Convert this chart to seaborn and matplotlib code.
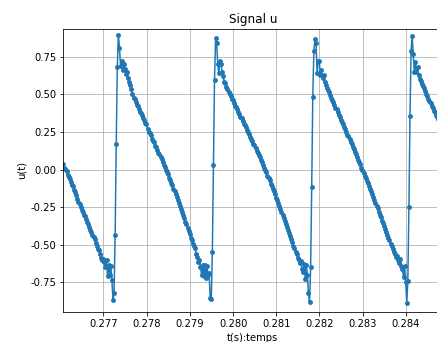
import numpy as np
import matplotlib
matplotlib.use("Agg")
import matplotlib.pyplot as plt
import seaborn as sns

# Sampled voltage u(t): acquisition start time and sample period (s)
t0 = 0.27607
dt = 2.5e-5

# Samples, one list per sawtooth cycle
cycle_1 = [
    0.040, 0.012, 0.005, -0.010, -0.035, -0.048, -0.060, -0.082, -0.100, -0.112,
    -0.138, -0.150, -0.168, -0.195, -0.215, -0.228, -0.252, -0.268, -0.283, -0.300,
    -0.312, -0.330, -0.352, -0.365, -0.382, -0.400, -0.412, -0.435, -0.450, -0.462,
    -0.490, -0.505, -0.528, -0.535, -0.560, -0.585, -0.600, -0.592, -0.615, -0.646,
    -0.600, -0.710, -0.635, -0.700, -0.640, -0.735, -0.868, -0.820, -0.435, 0.170,
    0.680, 0.894, 0.810, 0.686, 0.720, 0.660, 0.700, 0.668, 0.635, 0.650,
    0.606, 0.580, 0.560, 0.535, 0.500,
]
cycle_2 = [
    0.478, 0.469, 0.452, 0.430, 0.424, 0.405, 0.385, 0.378, 0.360, 0.345,
    0.330, 0.312, 0.300, 0.270, 0.252, 0.240, 0.228, 0.205, 0.192, 0.180,
    0.158, 0.148, 0.130, 0.110, 0.100, 0.080, 0.068, 0.050, 0.030, 0.018,
    0.000, -0.018, -0.030, -0.055, -0.070, -0.090, -0.105, -0.128, -0.145, -0.160,
    -0.185, -0.200, -0.222, -0.240, -0.262, -0.285, -0.300, -0.325, -0.348, -0.365,
    -0.388, -0.410, -0.428, -0.452, -0.470, -0.495, -0.510, -0.524, -0.560, -0.580,
    -0.613, -0.600, -0.646, -0.700, -0.635, -0.710, -0.635, -0.720, -0.640, -0.700,
    -0.690, -0.856, -0.863, -0.550, 0.033, 0.595, 0.872, 0.840, 0.700, 0.640,
    0.720, 0.700, 0.650, 0.620, 0.580,
]
cycle_3 = [
    0.572, 0.550, 0.538, 0.515, 0.505, 0.490, 0.470, 0.462, 0.445, 0.425,
    0.415, 0.400, 0.382, 0.370, 0.350, 0.340, 0.322, 0.305, 0.298, 0.280,
    0.262, 0.252, 0.235, 0.218, 0.205, 0.190, 0.170, 0.160, 0.142, 0.125,
    0.110, 0.095, 0.080, 0.060, 0.048, 0.030, 0.012, -0.005, -0.018, -0.040,
    -0.055, -0.072, -0.095, -0.108, -0.130, -0.145, -0.165, -0.188, -0.200, -0.225,
    -0.242, -0.262, -0.285, -0.300, -0.322, -0.340, -0.362, -0.385, -0.400, -0.420,
    -0.445, -0.462, -0.485, -0.505, -0.522, -0.545, -0.560, -0.590, -0.600, -0.620,
    -0.605, -0.660, -0.680, -0.625, -0.730, -0.635, -0.700, -0.823, -0.883, -0.650,
    -0.114, 0.485, 0.790, 0.865, 0.840, 0.640, 0.720, 0.720, 0.630, 0.660,
    0.610, 0.625, 0.580,
]
cycle_4 = [
    0.565, 0.545, 0.530, 0.512, 0.495, 0.478, 0.460, 0.448, 0.430, 0.410,
    0.400, 0.380, 0.365, 0.348, 0.330, 0.318, 0.300, 0.282, 0.270, 0.250,
    0.232, 0.220, 0.200, 0.182, 0.168, 0.150, 0.135, 0.118, 0.100, 0.085,
    0.065, 0.048, 0.035, 0.012, -0.005, -0.020, -0.040, -0.055, -0.075, -0.092,
    -0.108, -0.130, -0.145, -0.162, -0.185, -0.200, -0.220, -0.240, -0.258, -0.280,
    -0.300, -0.315, -0.340, -0.355, -0.375, -0.398, -0.412, -0.435, -0.455, -0.470,
    -0.492, -0.510, -0.525, -0.548, -0.560, -0.580, -0.575, -0.600, -0.620, -0.595,
    -0.640, -0.660, -0.715, -0.640, -0.750, -0.888, -0.740, -0.250, 0.358, 0.790,
    0.890, 0.770, 0.646, 0.713, 0.650, 0.680, 0.630, 0.600,
]
cycle_5 = [
    0.590, 0.570, 0.555, 0.540, 0.520, 0.505, 0.488, 0.470, 0.458, 0.440,
    0.420, 0.408, 0.390, 0.380, 0.365, 0.350, 0.335, 0.318, 0.305, 0.290, 0.275,
]

u = np.array(cycle_1 + cycle_2 + cycle_3 + cycle_4 + cycle_5)
t = t0 + dt * np.arange(len(u))

title = "Signal u"
x_label = "t(s):temps"
y_label = "u(t)"

W, H, DPI = 437, 342, 72
fig = plt.figure(figsize=(W / DPI, H / DPI), dpi=DPI)
ax = fig.add_axes([63.3 / W, (H - 311.7) / H, (442.4 - 63.3) / W, (311.7 - 29.0) / H])

sns.lineplot(x=t, y=u, ax=ax, color="#1f77b4", linewidth=1.5,
             marker="o", markersize=4, markeredgecolor="#1f77b4",
             markeredgewidth=0.8, estimator=None, sort=False)

ax.set_xlim(t[0], t[-1])
ax.set_ylim(-0.945, 0.934)
ax.set_xticks([0.277, 0.278, 0.279, 0.280, 0.281, 0.282, 0.283, 0.284])
ax.set_yticks([-0.75, -0.50, -0.25, 0.00, 0.25, 0.50, 0.75])
ax.xaxis.set_major_formatter(matplotlib.ticker.FormatStrFormatter("%.3f"))
ax.yaxis.set_major_formatter(matplotlib.ticker.FormatStrFormatter("%.2f"))
ax.grid(True, color="#b0b0b0", linewidth=0.8)
ax.set_axisbelow(True)

ax.set_title(title, fontsize=12)
ax.set_xlabel(x_label, fontsize=10)
ax.set_ylabel(y_label, fontsize=10)

fig.savefig("out.png", dpi=DPI)
